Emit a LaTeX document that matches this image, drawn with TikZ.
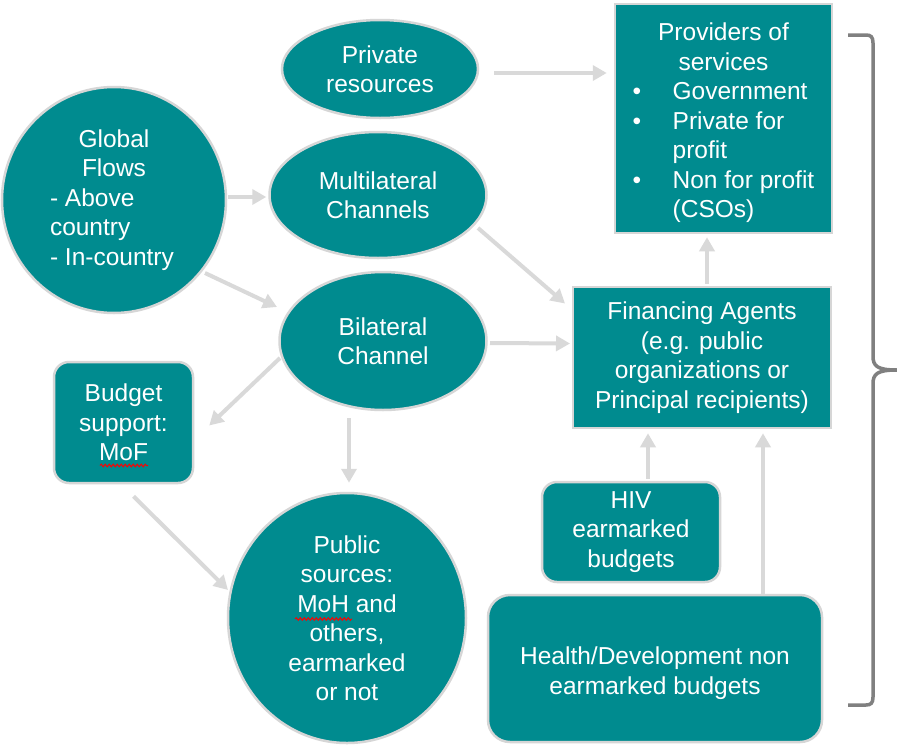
\documentclass[tikz,border=0pt]{standalone}
\usepackage{fontspec}
\setmainfont{Liberation Sans}
\usetikzlibrary{shapes.geometric,arrows.meta,calc,decorations.pathmorphing}
\definecolor{tealfill}{RGB}{0,139,143}
\definecolor{edgegray}{RGB}{214,214,214}
\definecolor{arrowgray}{RGB}{217,217,217}
\definecolor{bracegray}{RGB}{128,128,128}
\begin{document}
\begin{tikzpicture}[x=1pt,y=-1pt,
  base/.style={fill=tealfill, draw=edgegray, line width=2.5pt, text=white,
    font=\fontsize{24.5}{29.5}\selectfont, align=center, inner sep=0pt},
  oval/.style={base, ellipse},
  sqbox/.style={base, rectangle},
  rbox/.style={base, rectangle, rounded corners=15pt},
  arr/.style={draw=arrowgray, line width=4pt, -{Triangle[length=14pt,width=15pt]}},
  bracestyle/.style={draw=bracegray, line width=3.5pt},
  squiggle/.style={draw=red, line width=1pt, decorate,
    decoration={snake, amplitude=1.3pt, segment length=4pt}}]
\fill[white] (0,0) rectangle (897,745);
\useasboundingbox (0,0) rectangle (897,745);

% nodes
\node[oval, minimum width=224pt, minimum height=226pt, align=left] (glob) at (114,200)
  {\makebox[128pt][c]{Global}\\\makebox[128pt][c]{Flows}\\- Above\\country\\- In-country};
\node[oval, minimum width=196pt, minimum height=98pt] (priv) at (380,69) {Private\\resources};
\node[oval, minimum width=217pt, minimum height=126pt] (multi) at (378,195) {Multilateral\\Channels};
\node[oval, minimum width=207pt, minimum height=138pt] (bil) at (383,341) {Bilateral\\Channel};
\node[rbox, minimum width=139pt, minimum height=121pt] (bud) at (123.5,422.5) {Budget\\support:\\MoF};
\node[oval, minimum width=238pt, minimum height=250pt] (pub) at (347,618)
  {Public\\sources:\\MoH and\\others,\\earmarked\\or not};
\node[sqbox, minimum width=217pt, minimum height=229pt] (prov) at (723.5,118.5)
  {\raisebox{-5pt}[\height][\depth]{\begin{tabular}{@{}l@{}l@{}}
   \multicolumn{2}{c}{Providers of}\\
   \multicolumn{2}{c}{services}\\
   \makebox[40pt][l]{\textbullet} & Government\\
   \makebox[40pt][l]{\textbullet} & Private for\\
   & profit\\
   \makebox[40pt][l]{\textbullet} & Non for profit\\
   & (CSOs)
   \end{tabular}}};
\node[sqbox, minimum width=258pt, minimum height=141pt] (fin) at (702,357.5)
  {Financing Agents\\(e.g. public\\organizations or\\Principal recipients)};
\node[rbox, minimum width=178pt, minimum height=100pt] (hiv) at (631,532) {HIV\\earmarked\\budgets};
\node[rbox, rounded corners=22pt, minimum width=334pt, minimum height=147pt] (health) at (655,668.5)
  {\raisebox{-5pt}[\height][\depth]{\begin{tabular}{@{}c@{}}Health/Development non\\earmarked budgets\end{tabular}}};

% spell-check squiggles
\draw[squiggle] ($(bud.center)+(-23.5,43)$) -- ++(48,0);
\draw[squiggle] ($(pub.center)+(-52,1)$) -- ++(57,0);

% connectors
\draw[arr] ($(priv.east)+(15,4)$) -- ($(prov.west |- priv.east)+(-7,4)$);
\draw[arr] ($(glob.east)+(1,-3)$) -- ($(multi.west)+(-2,2)$);
\draw[arr] ($(glob.center)+(91,73)$) -- ($(bil.center)+(-106,-34)$);
\draw[arr] ($(multi.center)+(100,33)$) -- ($(fin.center)+(-137,-54)$);
\draw[arr] ($(bil.center)+(107,2)$) -- ($(fin.center)+(-132,-14)$);
\draw[arr] ($(fin.north)+(5,-2)$) -- ($(fin.north |- prov.south)+(5,3)$);
\draw[arr] ($(bil.center)+(-103,17)$) -- ($(bud.east)+(15,3)$);
\draw[arr] ($(bil.south)+(-34,7)$) -- ($(bil.south |- pub.north)+(-34,-9)$);
\draw[arr] ($(bud.south)+(10,12)$) -- ($(pub.center)+(-119,-28)$);
\draw[arr] ($(hiv.north)+(17,-2)$) -- ($(hiv.north |- fin.south)+(17,4)$);
\draw[arr] ($(health.north)+(108,0)$) -- ($(health.north |- fin.south)+(108,4)$);

% brace
\draw[bracestyle] (848,35) -- (866,35) .. controls (871,35) and (873,37) .. (873,43)
  -- (873,356) .. controls (873,366) and (877,370) .. (897,370);
\draw[bracestyle] (897,370) .. controls (877,370) and (873,374) .. (873,384)
  -- (873,697) .. controls (873,703) and (871,705) .. (866,705) -- (848,705);
\end{tikzpicture}
\end{document}
